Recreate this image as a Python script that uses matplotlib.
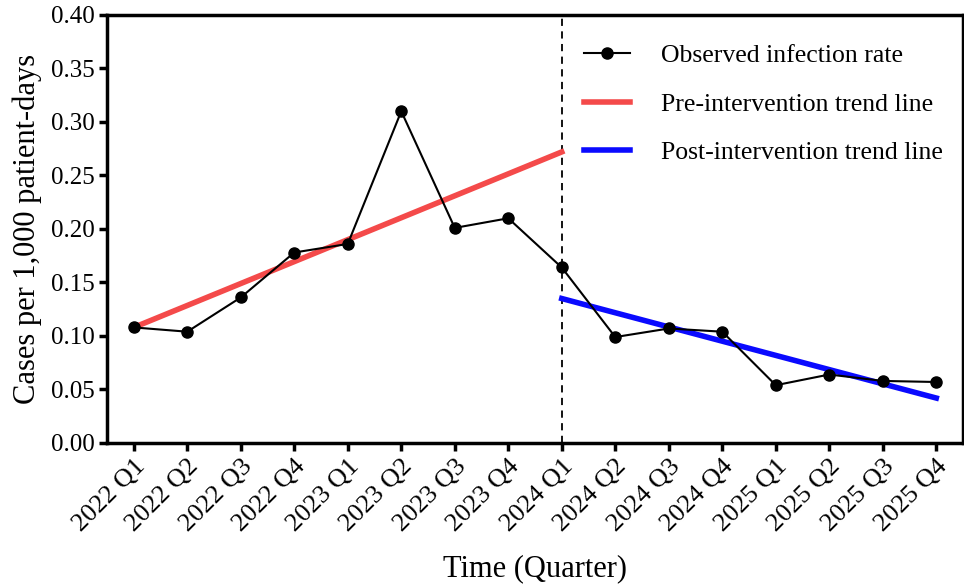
import matplotlib
matplotlib.use('Agg')
import matplotlib.pyplot as plt

# quarterly infection rate (cases per 1,000 patient-days)
quarters = ['2022 Q1', '2022 Q2', '2022 Q3', '2022 Q4',
            '2023 Q1', '2023 Q2', '2023 Q3', '2023 Q4',
            '2024 Q1', '2024 Q2', '2024 Q3', '2024 Q4',
            '2025 Q1', '2025 Q2', '2025 Q3', '2025 Q4']
observed = [0.108, 0.104, 0.136, 0.178, 0.186, 0.310, 0.201, 0.210,
            0.164, 0.099, 0.107, 0.104, 0.054, 0.064, 0.058, 0.057]

# trend line end points (quarter index, value)
pre_x = [0, 8]
pre_y = [0.108, 0.272]
post_x = [8, 15]
post_y = [0.135, 0.042]
intervention_idx = 8

plt.rcParams['font.family'] = ['Liberation Serif', 'DejaVu Serif']

fig = plt.figure(figsize=(9.64, 5.88), dpi=100)
ax = fig.add_axes([0.111, 0.2466, 0.888, 0.728])

x = list(range(len(quarters)))
ax.plot(pre_x, pre_y, color='#f44a4a', lw=4, label='Pre-intervention trend line', zorder=2)
ax.plot(post_x, post_y, color='#0a0aff', lw=4, label='Post-intervention trend line', zorder=2)
ax.plot(x, observed, color='black', lw=1.5, marker='o', ms=8,
        label='Observed infection rate', zorder=3)
ax.axvline(intervention_idx, color='black', lw=1.3, ls=(0, (4, 3)), zorder=1)

ax.set_xlim(-0.5, 15.5)
ax.set_ylim(0, 0.40)
ax.set_yticks([i * 0.05 for i in range(9)])
ax.set_yticklabels([f'{i * 0.05:.2f}' for i in range(9)])
ax.set_xticks(x)
ax.set_xticklabels(quarters, rotation=45, ha='right', rotation_mode='anchor')

for s in ax.spines.values():
    s.set_linewidth(2.5)
ax.tick_params(axis='both', direction='out', length=6, width=2.5, pad=3)
ax.tick_params(axis='y', labelsize=18)
ax.tick_params(axis='x', labelsize=19)

ax.set_xlabel('Time (Quarter)', fontsize=22, labelpad=13)
ax.set_ylabel('Cases per 1,000 patient-days', fontsize=22, labelpad=6)

h, l = ax.get_legend_handles_labels()
order = [2, 0, 1]
ax.legend([h[i] for i in order], [l[i] for i in order], loc='upper right',
          frameon=False, fontsize=18.5, handlelength=1.8, labelspacing=0.98,
          handletextpad=1.2, bbox_to_anchor=(1.003, 0.985))

fig.savefig('out.png', dpi=100)
